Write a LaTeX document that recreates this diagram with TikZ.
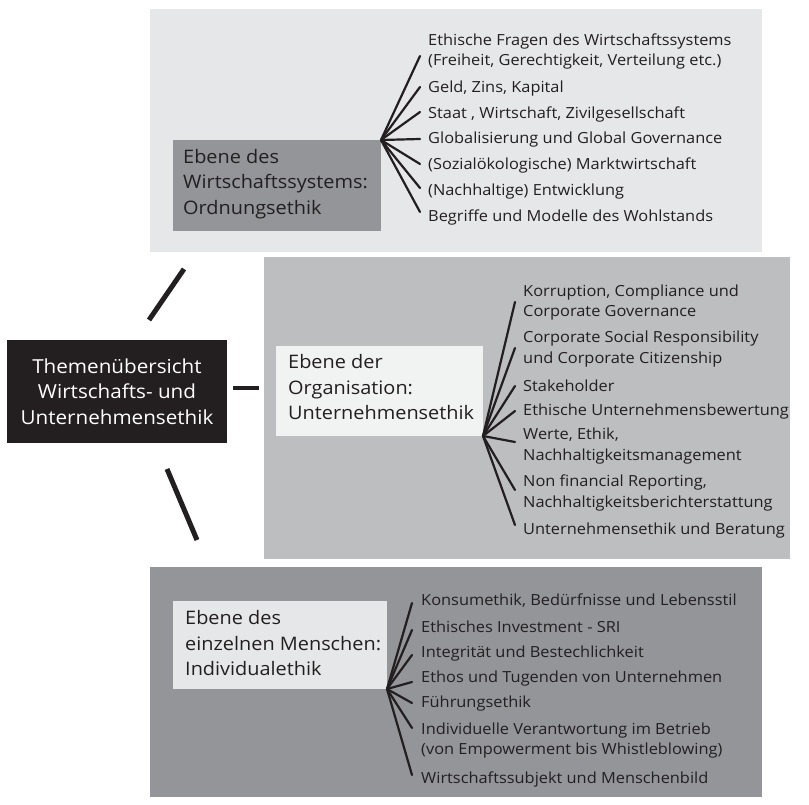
\documentclass[tikz,border=0pt]{standalone}
\usepackage{fontspec}
\setmainfont[FakeStretch=1.07]{Open Sans}
\definecolor{ink}{HTML}{231F20}
\definecolor{pone}{HTML}{E6E7E8}
\definecolor{ptwo}{HTML}{BCBEC0}
\definecolor{pthree}{HTML}{939598}
\definecolor{boxlight}{HTML}{F1F2F2}
\newcommand{\itemfont}{\fontsize{15.3}{20.5}\selectfont}
\newcommand{\boxfont}{\fontsize{18.6}{25.5}\selectfont}
\newcommand{\centerfont}{\fontsize{19.3}{25.5}\selectfont}
\tikzset{
  panel/.style={draw=none, inner sep=0pt, outer sep=0pt, anchor=north west, rectangle},
  levelbox/.style={draw=none, inner sep=0pt, outer sep=0pt, anchor=north west, rectangle},
  boxtext/.style={anchor=west, inner sep=0pt, align=left, font=\boxfont, text=ink,
    execute at begin node=\strut, execute at end node=\strut},
  itemtext/.style={anchor=west, inner sep=0pt, align=left, font=\itemfont, text=ink,
    execute at begin node=\strut, execute at end node=\strut},
  fan/.style={draw=ink, line width=2.2pt, line cap=round},
  link/.style={draw=ink, line width=5pt},
}
\begin{document}
\begin{tikzpicture}[x=1pt,y=-1pt]
\useasboundingbox (0,0) rectangle (809,805);
\fill[white] (0,0) rectangle (809,805);
% panels
\node[panel, fill=pone, minimum width=612pt, minimum height=243pt] (ptop) at (150,9) {};
\node[panel, fill=ptwo, minimum width=526pt, minimum height=302pt] (pmid) at (264,257) {};
\node[panel, fill=pthree, minimum width=612pt, minimum height=230pt] (pbot) at (150,567) {};
% central box
\node[draw=none, fill=ink, text=white, minimum width=220pt, minimum height=103pt, inner sep=0pt,
  align=center, font=\centerfont] (center) at (117,391.5) {Themenübersicht\\Wirtschafts- und\\Unternehmensethik};
% central links
\coordinate (ua) at (149,320); \coordinate (ub) at (184,269);
\coordinate (ma) at (233,388); \coordinate (mb) at (259,388);
\coordinate (da) at (167,469); \coordinate (db) at (197,540);
\draw[link] (ua) -- (ub);
\draw[link, line width=4.5pt] (ma) -- (mb);
\draw[link] (da) -- (db);
% level boxes
\node[levelbox, fill=pthree, minimum width=208pt, minimum height=91pt] (tbox) at (173,140) {};
\node[boxtext] (tboxt) at ([xshift=10pt]tbox.west) {Ebene des\\Wirtschaftssystems:\\Ordnungsethik};
\node[levelbox, fill=boxlight, minimum width=207pt, minimum height=90pt] (mbox) at (276,346) {};
\node[boxtext] (mboxt) at ([xshift=12pt]mbox.west) {Ebene der\\Organisation:\\Unternehmensethik};
\node[levelbox, fill=pone, minimum width=214pt, minimum height=88pt] (bbox) at (173,601) {};
\node[boxtext] (bboxt) at ([xshift=12pt,yshift=-2pt]bbox.west) {Ebene des\\einzelnen Menschen:\\Individualethik};
% top items
\node[itemtext] (t1) at (428,52.5) {Ethische Fragen des Wirtschaftssystems\\(Freiheit, Gerechtigkeit, Verteilung etc.)};
\node[itemtext] (t2) at (428,88) {Geld, Zins, Kapital};
\node[itemtext] (t3) at (428,114) {Staat , Wirtschaft, Zivilgesellschaft};
\node[itemtext] (t4) at (428,139.5) {Globalisierung und Global Governance};
\node[itemtext] (t5) at (428,165.5) {(Sozialökologische) Marktwirtschaft};
\node[itemtext] (t6) at (428,191) {(Nachhaltige) Entwicklung};
\node[itemtext] (t7) at (428,217) {Begriffe und Modelle des Wohlstands};
\coordinate (te1) at (420,56); \coordinate (te2) at (420,87);
\coordinate (te3) at (420,112); \coordinate (te4) at (420,139);
\coordinate (te5) at (420,164); \coordinate (te6) at (420,188);
\coordinate (te7) at (420,212);
\foreach \i in {1,...,7} \draw[fan] (tbox.north east) -- (te\i);
% middle items
\node[itemtext] (m1) at (523,303.8) {Korruption, Compliance und\\Corporate Governance};
\node[itemtext] (m2) at (523,350.3) {Corporate Social Responsibility\\und Corporate Citizenship};
\node[itemtext] (m3) at (523,387) {Stakeholder};
\node[itemtext] (m4) at (523,411) {Ethische Unternehmensbewertung};
\node[itemtext] (m5) at (523,447.3) {Werte, Ethik,\\Nachhaltigkeitsmanagement};
\node[itemtext] (m6) at (523,494) {Non financial Reporting,\\Nachhaltigkeitsberichterstattung};
\node[itemtext] (m7) at (523,530.3) {Unternehmensethik und Beratung};
\coordinate (me1) at (515,302); \coordinate (me2) at (515,348);
\coordinate (me3) at (515,386); \coordinate (me4) at (515,411);
\coordinate (me5) at (515,442); \coordinate (me6) at (515,490);
\coordinate (me7) at (515,525);
\foreach \i in {1,...,7} \draw[fan] (mbox.south east) -- (me\i);
% bottom items
\node[itemtext] (b1) at (421,601) {Konsumethik, Bedürfnisse und Lebensstil};
\node[itemtext] (b2) at (421,628) {Ethisches Investment - SRI};
\node[itemtext] (b3) at (421,653) {Integrität und Bestechlichkeit};
\node[itemtext] (b4) at (421,678) {Ethos und Tugenden von Unternehmen};
\node[itemtext] (b5) at (421,703) {Führungsethik};
\node[itemtext] (b6) at (421,742) {Individuelle Verantwortung im Betrieb\\(von Empowerment bis Whistleblowing)};
\node[itemtext] (b7) at (421,779) {Wirtschaftssubjekt und Menschenbild};
\coordinate (be1) at (412,603); \coordinate (be2) at (412,630);
\coordinate (be3) at (412,655); \coordinate (be4) at (412,682);
\coordinate (be5) at (412,703); \coordinate (be6) at (412,728);
\coordinate (be7) at (412,775);
\foreach \i in {1,...,7} \draw[fan] (bbox.south east) -- (be\i);
\end{tikzpicture}
\end{document}
